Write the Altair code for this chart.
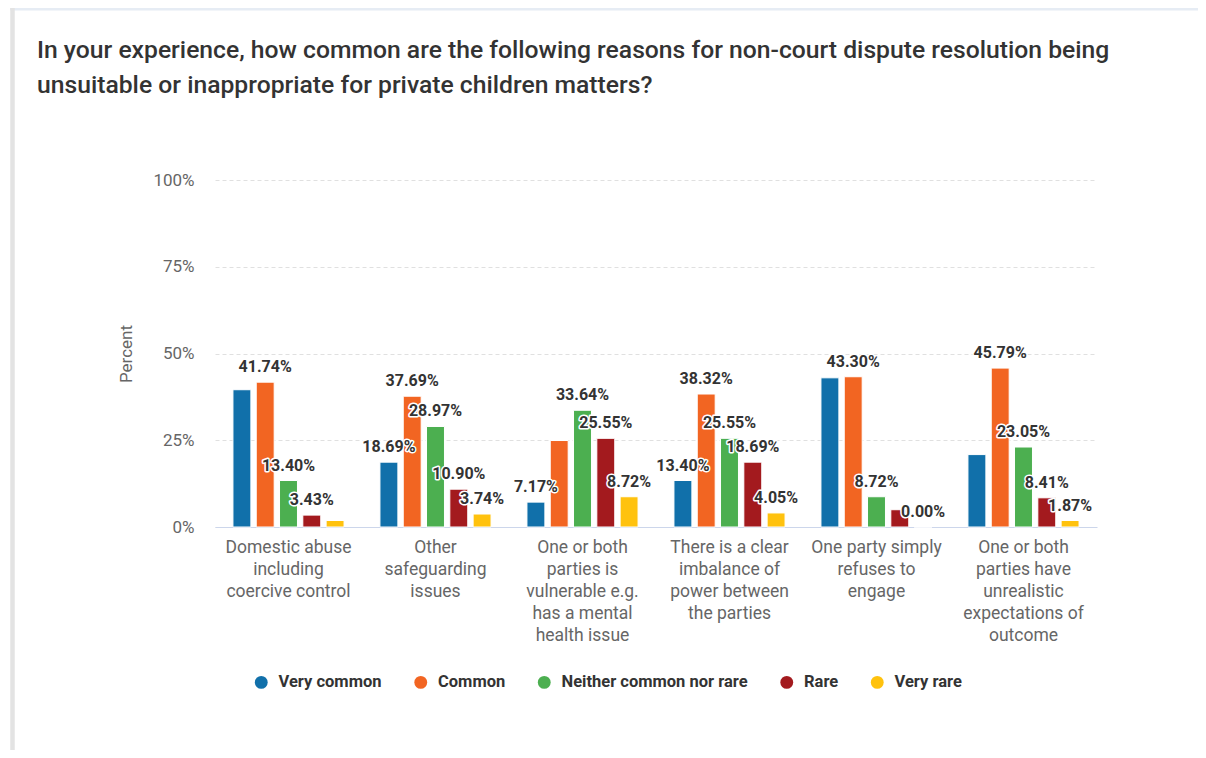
import altair as alt
import pandas as pd

categories = [
    "Domestic abuse|including|coercive control",
    "Other|safeguarding|issues",
    "One or both|parties is|vulnerable e.g.|has a mental|health issue",
    "There is a clear|imbalance of|power between|the parties",
    "One party simply|refuses to|engage",
    "One or both|parties have|unrealistic|expectations of|outcome",
]
series = ["Very common", "Common", "Neither common nor rare", "Rare", "Very rare"]
colors = ["#1170aa", "#f26522", "#4caf50", "#a31a1e", "#ffc20e"]

very_common = [39.56, 18.69, 7.17, 13.40, 42.99, 20.87]
common = [41.74, 37.69, 24.92, 38.32, 43.30, 45.79]
neither = [13.40, 28.97, 33.64, 25.55, 8.72, 23.05]
rare = [3.43, 10.90, 25.55, 18.69, 4.98, 8.41]
very_rare = [1.87, 3.74, 8.72, 4.05, 0.00, 1.87]

# which data labels are visible in the reference
very_common_shown = [False, True, True, True, False, False]
common_shown = [True, True, False, True, True, True]
neither_shown = [True, True, True, True, True, True]
rare_shown = [True, True, True, True, False, True]
very_rare_shown = [False, True, True, True, True, True]

title_lines = [
    "In your experience, how common are the following reasons for non-court dispute resolution being",
    "unsuitable or inappropriate for private children matters?",
]

values = [very_common, common, neither, rare, very_rare]
shown = [very_common_shown, common_shown, neither_shown, rare_shown, very_rare_shown]
rows = []
for s, vals, sh in zip(series, values, shown):
    for c, v, show in zip(categories, vals, sh):
        rows.append({"cat": c, "series": s, "value": v,
                     "label": f"{v:.2f}%" if show else ""})
df = pd.DataFrame(rows)

FONT = "Roboto"

x_enc = alt.X(
    "cat:N", sort=categories,
    scale=alt.Scale(paddingInner=0, paddingOuter=0),
    axis=alt.Axis(title=None, labelExpr="split(datum.value, '|')", labelAngle=0,
                  labelFontSize=17.5, labelColor="#666666", labelFont=FONT,
                  labelLineHeight=22, labelPadding=11, labelBaseline="top",
                  domainColor="#ccd6eb", domainWidth=1, ticks=False, grid=False,
                  labelLimit=0),
)
xo_enc = alt.XOffset("series:N", sort=series,
                     scale=alt.Scale(paddingInner=0.23, paddingOuter=0.77))
y_enc = alt.Y(
    "value:Q", scale=alt.Scale(domain=[0, 100]),
    axis=alt.Axis(values=[0, 25, 50, 75, 100], labelExpr="datum.value + '%'",
                  title="Percent", grid=True, gridDash=[4, 3], gridColor="#e0e0e0",
                  domain=False, ticks=False, labelFontSize=17, labelColor="#666666",
                  labelFont=FONT, labelPadding=21, titleFont=FONT, titleFontSize=17,
                  titleColor="#666666", titleFontWeight="normal", titlePadding=17),
)

base = alt.Chart(df)

bars = base.mark_bar(stroke="white", strokeWidth=1).encode(
    x=x_enc, xOffset=xo_enc, y=y_enc,
    color=alt.Color(
        "series:N", sort=series,
        scale=alt.Scale(domain=series, range=colors),
        legend=alt.Legend(orient="none", legendX=38, legendY=494,
                          direction="horizontal", columns=5, title=None,
                          symbolType="circle", symbolSize=165, symbolStrokeWidth=0,
                          labelFontSize=16.5, labelFontWeight="bold", labelColor="#333333",
                          labelFont=FONT, labelOffset=9, columnPadding=30.5,
                          padding=0, labelLimit=0),
    ),
)

halo = base.mark_text(font=FONT, fontSize=16, fontWeight="bold", stroke="white",
                      strokeWidth=3, strokeJoin="round", fill="white", dy=-10,
                      baseline="alphabetic").encode(
    x=x_enc, xOffset=xo_enc, y=y_enc, text="label:N")
labels = base.mark_text(font=FONT, fontSize=16, fontWeight="bold", color="#333333",
                        dy=-10, baseline="alphabetic").encode(
    x=x_enc, xOffset=xo_enc, y=y_enc, text="label:N")

frame_data = alt.Data(values=[{}])
top_border = alt.Chart(frame_data).mark_rule(color="#e6ecf4", strokeWidth=3).encode(
    x=alt.value(-205), x2=alt.value(990), y=alt.value(-171), y2=alt.value(-171))
left_border = alt.Chart(frame_data).mark_rule(color="#e3e3e3", strokeWidth=4.5).encode(
    x=alt.value(-202.5), x2=alt.value(-202.5), y=alt.value(-172), y2=alt.value(580))

chart = alt.layer(top_border, left_border, bars, halo, labels).properties(
    width=882, height=347,
    autosize=alt.AutoSizeParams(type="none"),
    padding={"left": 207, "top": 172, "right": 101, "bottom": 223},
    background="white",
    title=alt.TitleParams(title_lines, anchor="start", frame="group", font=FONT,
                          fontSize=24.7, fontWeight=500, color="#333333",
                          lineHeight=35, dx=-178, dy=96),
).configure_view(stroke=None)

chart.save("out.html", embed_options={"renderer": "svg", "actions": False})
